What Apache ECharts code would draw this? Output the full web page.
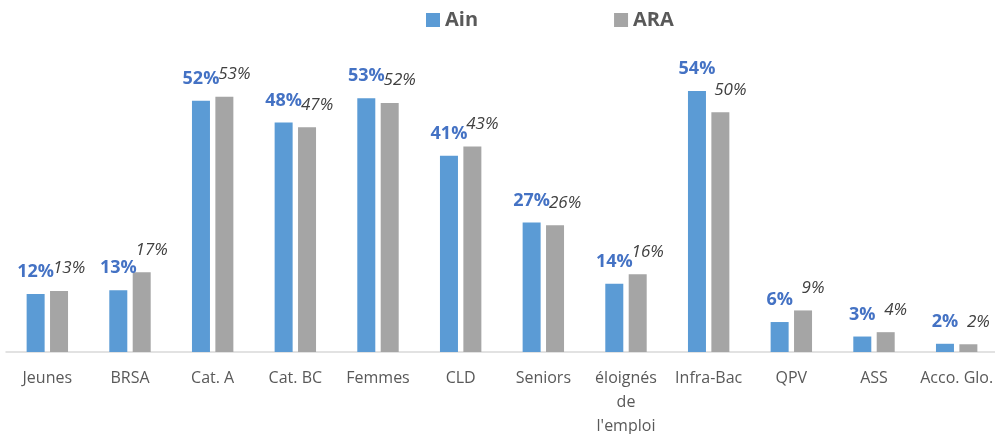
<!DOCTYPE html>
<html>
<head>
<meta charset="utf-8">
<script src="https://cdn.jsdelivr.net/npm/echarts@6/dist/echarts.min.js"></script>
<style>html,body{margin:0;padding:0;background:#fff}#c{width:995px;height:434px}</style>
</head>
<body>
<div id="c"></div>
<script>
const categories = ["Jeunes", "BRSA", "Cat. A", "Cat. BC", "Femmes", "CLD", "Seniors", "éloignés\nde\nl'emploi", "Infra-Bac", "QPV", "ASS", "Acco. Glo."];
const ainValues = [12.0, 12.8, 52.0, 47.5, 52.5, 40.6, 26.8, 14.1, 54.0, 6.2, 3.2, 1.7];
const araValues = [12.6, 16.5, 52.8, 46.5, 51.5, 42.5, 26.2, 16.1, 49.6, 8.6, 4.1, 1.6];
const seriesNames = ["Ain", "ARA"];

const font = "'Open Sans', 'DejaVu Sans', sans-serif";
const chart = echarts.init(document.getElementById('c'));
chart.setOption({
  animation: false,
  textStyle: { fontFamily: font },
  legend: {
    left: 426, top: 10, padding: 0,
    itemWidth: 14, itemHeight: 14, itemGap: 136,
    icon: 'rect',
    textStyle: { fontSize: 20, fontWeight: 'bold', color: '#595959', fontFamily: font },
    data: seriesNames
  },
  grid: { left: 6, right: -3, top: 62, bottom: 82, containLabel: false, outerBoundsMode: 'none' },
  xAxis: {
    type: 'category',
    data: categories,
    axisLine: { lineStyle: { color: '#D9D9D9', width: 1.5 } },
    axisTick: { show: false },
    axisLabel: { interval: 0, color: '#595959', fontSize: 16, lineHeight: 24, margin: 14, fontFamily: font }
  },
  yAxis: { type: 'value', min: 0, max: 60, show: false, splitLine: { show: false } },
  series: [
    {
      name: seriesNames[0], type: 'bar', data: ainValues,
      barWidth: 18, barGap: '30%',
      itemStyle: { color: '#5B9BD5' },
      label: {
        show: true, position: 'top', distance: 13,
        formatter: p => Math.round(p.value) + '%',
        color: '#4472C4', fontWeight: 'bold', fontSize: 18, fontFamily: font
      }
    },
    {
      name: seriesNames[1], type: 'bar', data: araValues,
      barWidth: 18,
      itemStyle: { color: '#A5A5A5' },
      label: {
        show: true, position: 'top', distance: 14, offset: [10, 0],
        formatter: p => Math.round(p.value) + '%',
        color: '#404040', fontStyle: 'italic', fontSize: 17, fontFamily: font
      }
    }
  ]
});
</script>
</body>
</html>
